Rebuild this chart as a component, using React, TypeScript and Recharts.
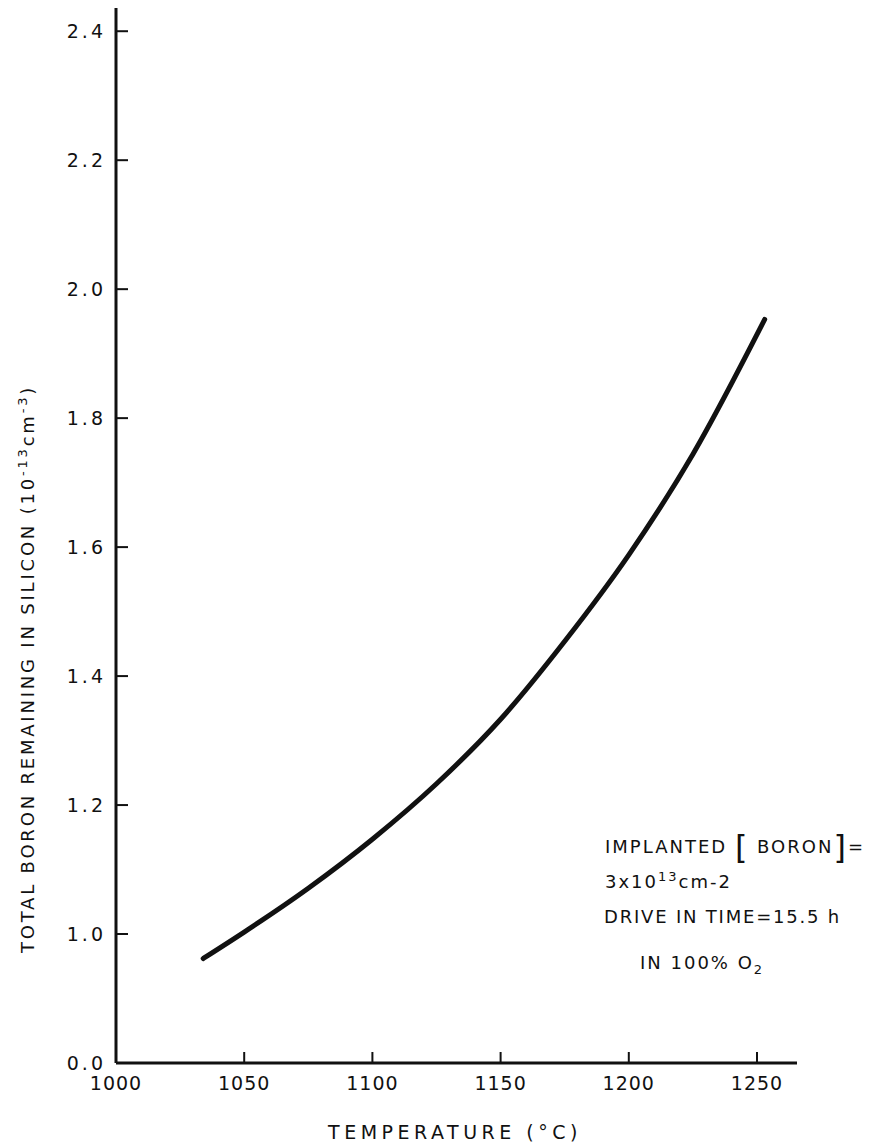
import React from 'react'
import { LineChart, Line, XAxis, YAxis } from 'recharts'

// temperature (°C) and boron remaining (10^13 cm^-2)
const temperature = [1034, 1050, 1075, 1100, 1125, 1150, 1175, 1200, 1225, 1253]
const boron = [0.962, 1.003, 1.071, 1.147, 1.233, 1.333, 1.454, 1.588, 1.744, 1.953]

const xTicks = [1000, 1050, 1100, 1150, 1200, 1250]
// the axis is broken below 1.0: the bottom tick sits at 0.8 and reads "0.0"
const yTicks = [0.8, 1.0, 1.2, 1.4, 1.6, 1.8, 2.0, 2.2, 2.4]
const yTickLabels = ['0.0', '1.0', '1.2', '1.4', '1.6', '1.8', '2.0', '2.2', '2.4']

const data = temperature.map((t, i) => ({ t, v: boron[i] }))

const FONT = '"DejaVu Sans", sans-serif'
const AXIS_X = 116
const AXIS_Y = 1063

function YTick(props: any) {
  const { y, payload, index } = props
  return (
    <g>
      {payload.value > 0.8 && (
        <line x1={AXIS_X} x2={AXIS_X + 12} y1={y} y2={y} stroke="#111" strokeWidth={2} />
      )}
      <text
        x={AXIS_X - 10}
        y={y + 7}
        textAnchor="end"
        fontFamily={FONT}
        fontSize={19}
        letterSpacing={3}
        fill="#111"
      >
        {yTickLabels[index]}
      </text>
    </g>
  )
}

function XTick(props: any) {
  const { x, payload } = props
  return (
    <g>
      {payload.value > 1000 && (
        <line x1={x} x2={x} y1={AXIS_Y} y2={AXIS_Y - 11} stroke="#111" strokeWidth={2} />
      )}
      <text
        x={x}
        y={AXIS_Y + 27}
        textAnchor="middle"
        fontFamily={FONT}
        fontSize={19}
        letterSpacing={1}
        fill="#111"
      >
        {payload.value}
      </text>
    </g>
  )
}

const noteStyle: React.CSSProperties = {
  position: 'absolute',
  fontFamily: FONT,
  fontSize: 18,
  letterSpacing: 2,
  color: '#111',
  whiteSpace: 'nowrap',
  lineHeight: 1,
}

export default function App() {
  return (
    <div style={{ position: 'absolute', left: 0, top: 0, width: 880, height: 1145, background: '#fff' }}>
      <LineChart
        width={880}
        height={1145}
        data={data}
        margin={{ top: 8, right: 83, bottom: 12, left: 0 }}
      >
        <XAxis
          type="number"
          dataKey="t"
          domain={[1000, 1265.6]}
          ticks={xTicks}
          allowDataOverflow
          height={70}
          tickLine={false}
          axisLine={{ stroke: '#111', strokeWidth: 3 }}
          tick={<XTick />}
          interval={0}
        />
        <YAxis
          type="number"
          domain={[0.8, 2.436]}
          ticks={yTicks}
          allowDataOverflow
          width={116}
          tickLine={false}
          axisLine={{ stroke: '#111', strokeWidth: 3 }}
          tick={<YTick />}
          interval={0}
        />
        <Line
          type="monotone"
          dataKey="v"
          stroke="#111"
          strokeWidth={5}
          strokeLinecap="round"
          dot={false}
          isAnimationActive={false}
        />
      </LineChart>

      {/* axis titles */}
      <div
        style={{
          ...noteStyle,
          left: 26,
          top: 669,
          fontSize: 18,
          letterSpacing: 2.8,
          transform: 'translate(-50%, -50%) rotate(-90deg)',
        }}
      >
        TOTAL BORON REMAINING IN SILICON (10<sup style={{ fontSize: 13 }}>-13</sup>cm<sup style={{ fontSize: 13 }}>-3</sup>)
      </div>
      <div style={{ ...noteStyle, left: 455, top: 1132, fontSize: 19, letterSpacing: 4.5, transform: 'translate(-50%, -50%)' }}>
        TEMPERATURE (°C)
      </div>

      {/* annotation */}
      <div style={{ ...noteStyle, left: 605, top: 831 }}>
        IMPLANTED <span style={{ fontSize: 32, verticalAlign: -5 }}>[</span> BORON<span style={{ fontSize: 32, verticalAlign: -5 }}>]</span>=
      </div>
      <div style={{ ...noteStyle, left: 605, top: 870 }}>
        3x10<sup style={{ fontSize: 13 }}>13</sup>cm-2
      </div>
      <div style={{ ...noteStyle, left: 604, top: 908, letterSpacing: 1.8 }}>DRIVE IN TIME=15.5 h</div>
      <div style={{ ...noteStyle, left: 640, top: 954 }}>
        IN 100% O<sub style={{ fontSize: 13 }}>2</sub>
      </div>
    </div>
  )
}
